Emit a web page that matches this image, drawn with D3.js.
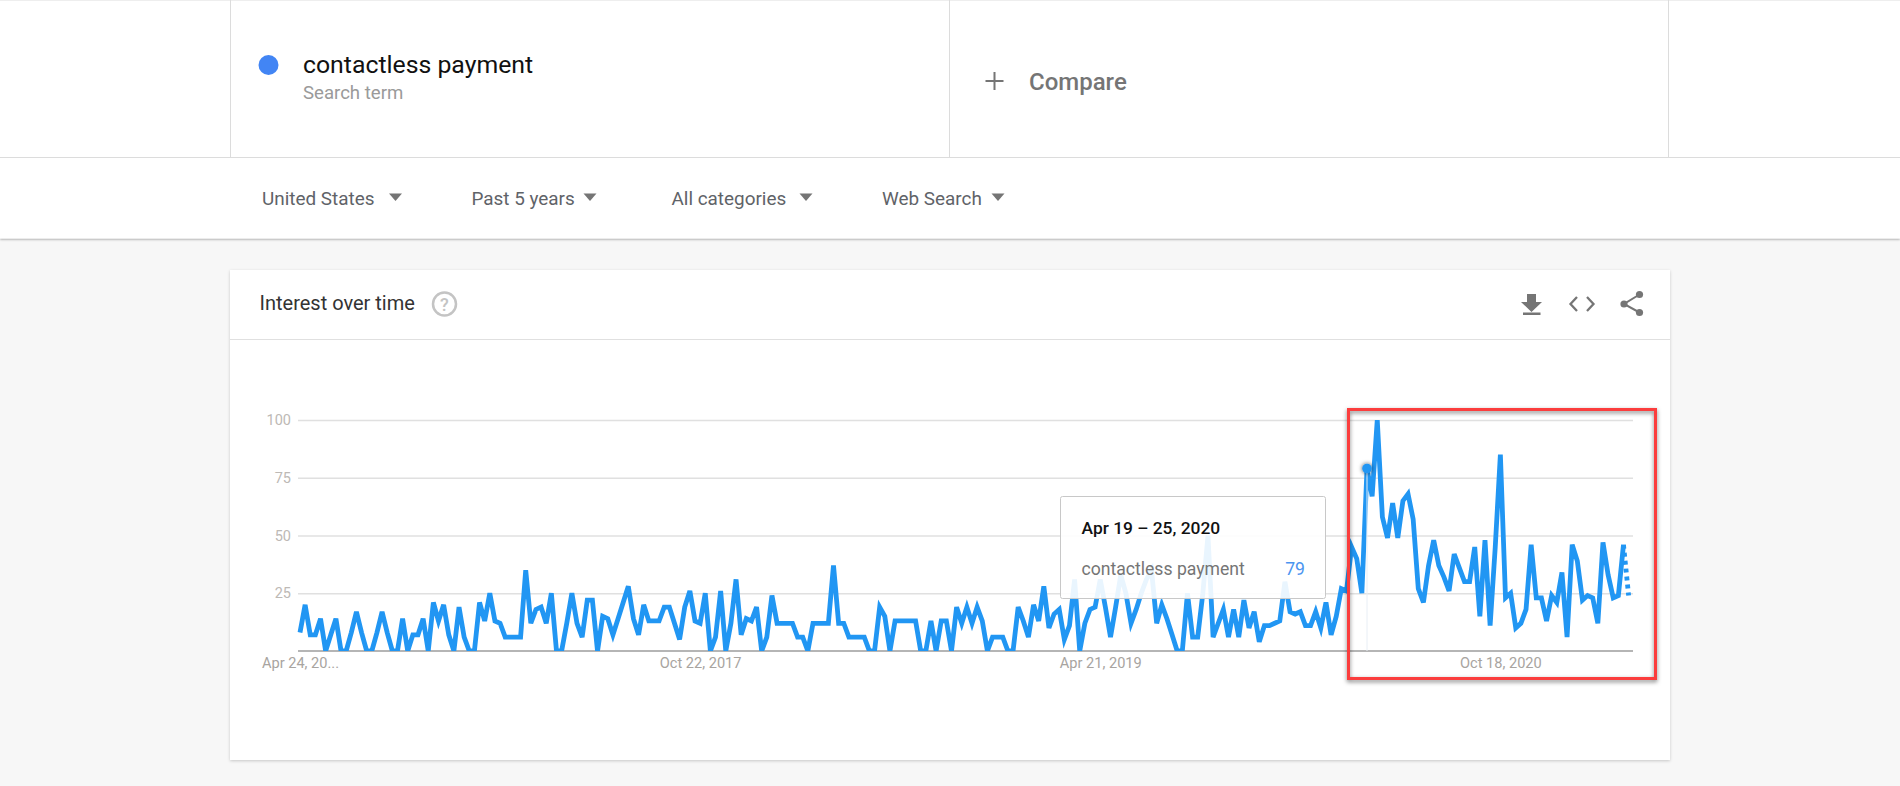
<!DOCTYPE html>
<html><head><meta charset="utf-8">
<script src="https://cdnjs.cloudflare.com/ajax/libs/d3/7.8.5/d3.min.js"></script>
<style>
html,body{margin:0;padding:0;background:#f7f7f7;overflow:hidden}
svg{display:block;font-family:Roboto,sans-serif}
</style></head><body><div id="c"></div>
<script>
const seriesName = "contactless payment";
const interest = [
8,20,7,7,14,0,7,14,0,0,8,17,8,0,0,8,17,8,0,0,14,0,7,7,14,0,21,13,20,7,0,19,6,0,0,21,13,25,13,12,6,6,6,6,35,12,18,19,12,25,
0,0,12,25,12,6,22,22,0,15,14,7,14,21,28,14,7,20,13,13,13,19,19,12,5,19,26,13,12,25,0,6,26,0,12,31,7,14,13,19,0,6,24,12,12,12,12,6,6,0,
12,12,12,12,37,12,12,6,6,6,6,0,0,19,15,0,13,13,13,13,13,0,0,13,0,13,13,0,19,12,19,12,19,13,0,6,6,6,0,0,19,13,6,20,13,28,10,16,18,5,
11,31,0,12,18,19,31,19,6,19,33,25,12,18,25,31,35,12,20,14,7,0,0,25,6,6,25,50,6,12,18,6,18,6,22,10,17,4,11,11,12,13,30,17,16,17,11,11,17,10,
21,7,15,27,26,45,40,25,79,67,100,58,49,64,49,65,68,57,27,21,37,48,37,32,26,42,36,30,30,45,15,48,11,45,85,23,25,10,12,18,46,23,23,13,24,21,34,6,46,39,
22,24,23,12,47,33,23,24,46,24];
const partialPoints = 2;            // last segment: incomplete week, dotted
const yTicks = [25,50,75,100];
const baselineTick = 0;
const xTickWeeks = [0,78,156,234];
const xTickLabels = ["Apr 24, 20...","Oct 22, 2017","Apr 21, 2019","Oct 18, 2020"];
const hoverWeek = 208;
const hoverLabel = "Apr 19 \u2013 25, 2020";
const filters = ["United States","Past 5 years","All categories","Web Search"];
const filterX = [262,471.5,671.5,882];
const arrowX = [395.5,590,806,998];

const W=1900,H=786;
const svg=d3.select("#c").append("svg").attr("width",W).attr("height",H);
const defs=svg.append("defs");
const sh=(id,dy,sd,op)=>{const f=defs.append("filter").attr("id",id).attr("x","-5%").attr("y","-10%").attr("width","110%").attr("height","125%");
 f.append("feDropShadow").attr("dx",0).attr("dy",dy).attr("stdDeviation",sd).attr("flood-color","#000").attr("flood-opacity",op);};
sh("hdr",1,1.2,.35); sh("card",1,1.5,.2);
const bs=defs.append("filter").attr("id","box").attr("x","-5%").attr("y","-5%").attr("width","110%").attr("height","110%");
bs.append("feDropShadow").attr("dx",0).attr("dy",2).attr("stdDeviation",2).attr("flood-color","#000").attr("flood-opacity",.5);
const ms=defs.append("filter").attr("id","mk").attr("x","-60%").attr("y","-60%").attr("width","220%").attr("height","220%");
ms.append("feDropShadow").attr("dx",0).attr("dy",0).attr("stdDeviation",2).attr("flood-color","#000").attr("flood-opacity",.7);

// page header
svg.append("rect").attr("width",W).attr("height",238.5).attr("fill","#fff").attr("filter","url(#hdr)");
svg.append("line").attr("x1",0).attr("x2",W).attr("y1",157.5).attr("y2",157.5).attr("stroke","#dcdcdc");
svg.append("line").attr("x1",0).attr("x2",W).attr("y1",0.5).attr("y2",0.5).attr("stroke","#eee");
[230.5,949.5,1668.5].forEach(x=>svg.append("line").attr("x1",x).attr("x2",x).attr("y1",0).attr("y2",157).attr("stroke","#dcdcdc"));
svg.append("circle").attr("cx",268.5).attr("cy",65).attr("r",10).attr("fill","#4285f4");
svg.append("text").attr("x",303).attr("y",73).attr("font-size",24.8).attr("fill","#111").text(seriesName);
svg.append("text").attr("x",303).attr("y",99).attr("font-size",18.6).attr("fill","#9a9a9a").text("Search term");
svg.append("path").attr("d","M994.5 72v18M985.5 81h18").attr("stroke","#757575").attr("stroke-width",2).attr("fill","none");
svg.append("text").attr("x",1029).attr("y",90).attr("font-size",24).attr("font-weight",500).attr("fill","#757575").text("Compare");
filters.forEach((t,i)=>{
  svg.append("text").attr("x",filterX[i]).attr("y",204.5).attr("font-size",18.9).attr("fill","#5f6368").text(t);
  svg.append("path").attr("d",d3.line()([[arrowX[i]-6.5,193.5],[arrowX[i]+6.5,193.5],[arrowX[i],201]])+"Z").attr("fill","#757575");
});

// card
svg.append("rect").attr("x",230).attr("y",270).attr("width",1440).attr("height",490).attr("fill","#fff").attr("filter","url(#card)");
svg.append("line").attr("x1",230).attr("x2",1670).attr("y1",339.5).attr("y2",339.5).attr("stroke","#e0e0e0");
svg.append("text").attr("x",259.5).attr("y",310).attr("font-size",20).attr("fill","#333").text("Interest over time");
svg.append("circle").attr("cx",444.5).attr("cy",304).attr("r",11.5).attr("fill","none").attr("stroke","#c4c4c4").attr("stroke-width",2.5);
svg.append("text").attr("x",444.5).attr("y",310.5).attr("text-anchor","middle").attr("font-size",18).attr("font-weight",500).attr("fill","#c4c4c4").text("?");
// icons
svg.append("path").attr("d","M1527 294h9v8h6l-10.500 10L1521 302h6z").attr("fill","#757575");
svg.append("rect").attr("x",1523).attr("y",312.5).attr("width",17.500).attr("height",2.500).attr("fill","#757575");
svg.append("path").attr("d","M1577 297l-6.500 7 6.500 7M1587 297l6.500 7-6.500 7").attr("fill","none").attr("stroke","#757575").attr("stroke-width",2.300);
svg.append("path").attr("d","M1639.500 294.500L1624 304l15.500 8.500").attr("fill","none").attr("stroke","#757575").attr("stroke-width",2);
[[1639.5,294.5],[1624,304],[1639.5,312.5]].forEach(p=>svg.append("circle").attr("cx",p[0]).attr("cy",p[1]).attr("r",3.6).attr("fill","#757575"));

// chart
const x=d3.scaleLinear().domain([0,208]).range([300,1367]);
const y=d3.scaleLinear().domain([baselineTick,100]).range([651,420]);
const gy=svg.append("g").attr("transform","translate(298,0)")
 .call(d3.axisLeft(y).tickValues(yTicks).tickSize(-(1633-298)).tickPadding(7));
gy.select(".domain").remove();
gy.selectAll("line").attr("stroke","#e0e0e0").attr("stroke-width",1.5);
gy.selectAll("text").attr("font-family","Roboto").attr("font-size",14.5).attr("fill","#bdb9b5");
const gx=svg.append("g").attr("transform","translate(0,651)")
 .call(d3.axisBottom(x).tickValues(xTickWeeks).tickFormat((d,i)=>xTickLabels[i]).tickSize(0).tickPadding(7));
gx.select(".domain").remove();
gx.selectAll("text").attr("font-family","Roboto").attr("font-size",14.6).attr("fill","#a8a4a0");
svg.append("line").attr("x1",298).attr("x2",1633).attr("y1",651).attr("y2",651).attr("stroke","#b5b5b5").attr("stroke-width",2);

defs.append("clipPath").attr("id","plot").append("rect").attr("x",290).attr("y",y(100)).attr("width",1350).attr("height",y(0)-y(100));
const pts=interest.map((v,i)=>[i,v]);
const line=d3.line().x(d=>x(d[0])).y(d=>y(d[1]));
const plot=svg.append("g").attr("clip-path","url(#plot)");
svg.append("line").attr("x1",x(hoverWeek)).attr("x2",x(hoverWeek)).attr("y1",y(interest[hoverWeek])).attr("y2",y(0)).attr("stroke","#e8eef5");
plot.append("path").attr("d",line(pts.slice(0,pts.length-partialPoints+1))).attr("fill","none").attr("stroke","#2196f3").attr("stroke-width",4.8);
plot.append("path").attr("d",line(pts.slice(-partialPoints))).attr("fill","none").attr("stroke","#2196f3").attr("stroke-width",4.8).attr("stroke-dasharray","4,4");
svg.append("circle").attr("cx",x(hoverWeek)).attr("cy",y(interest[hoverWeek])).attr("r",4.8).attr("fill","#2196f3").attr("filter","url(#mk)");

// tooltip
const tt=svg.append("g");
tt.append("rect").attr("x",1060.5).attr("y",496.5).attr("width",265).attr("height",102).attr("rx",2).attr("fill","rgba(255,255,255,.9)").attr("stroke","#c8c8c8");
tt.append("text").attr("x",1081.500).attr("y",534).attr("font-size",17.400).attr("font-weight",500).attr("fill","#111").text(hoverLabel);
tt.append("text").attr("x",1081.500).attr("y",575).attr("font-size",17.600).attr("fill","#757575").text(seriesName);
tt.append("text").attr("x",1305).attr("y",575).attr("text-anchor","end").attr("font-size",17.600).attr("fill","#4b94f0").text(interest[hoverWeek]);

// highlight box
svg.append("rect").attr("x",1348.500).attr("y",409.500).attr("width",307).attr("height",269).attr("fill","none").attr("stroke","#fb3d3d").attr("stroke-width",3).attr("filter","url(#box)");
</script></body></html>
